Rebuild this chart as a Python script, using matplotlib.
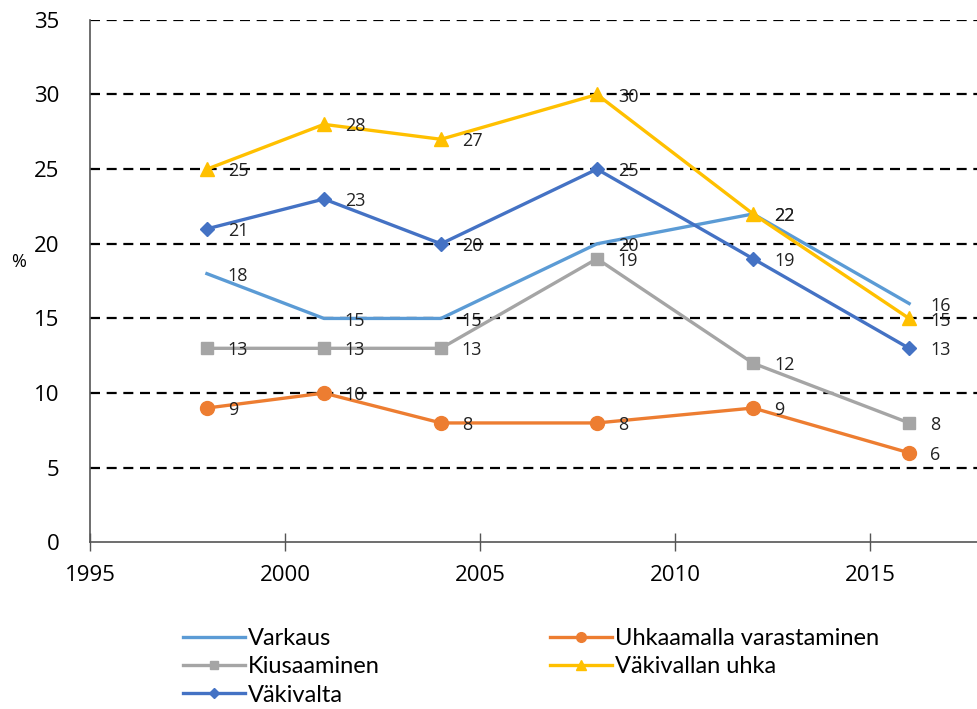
import matplotlib
matplotlib.use("Agg")
import matplotlib.pyplot as plt

plt.rcParams['font.family'] = ['Open Sans', 'DejaVu Sans']

# --- data ---
years = [1998, 2001, 2004, 2008, 2012, 2016]
varkaus = [18, 15, 15, 20, 22, 16]
uhkaamalla = [9, 10, 8, 8, 9, 6]
kiusaaminen = [13, 13, 13, 19, 12, 8]
vakivallan_uhka = [25, 28, 27, 30, 22, 15]
vakivalta = [21, 23, 20, 25, 19, 13]

series = [
    ("Varkaus", varkaus, "#5B9BD5", None, 0),
    ("Uhkaamalla varastaminen", uhkaamalla, "#ED7D31", "o", 10),
    ("Kiusaaminen", kiusaaminen, "#A5A5A5", "s", 8),
    ("Väkivallan uhka", vakivallan_uhka, "#FFC000", "^", 10),
    ("Väkivalta", vakivalta, "#4472C4", "D", 7.5),
]

fig = plt.figure(figsize=(9.77, 7.09), dpi=100)
ax = fig.add_axes([0.092, 0.235, 0.908, 0.737])

for y in range(5, 36, 5):
    ax.axhline(y, color='black', lw=1.6, ls=(0, (4.5, 3)), zorder=1)

handles = {}
for name, vals, col, mk, ms in series:
    ln, = ax.plot(years, vals, color=col, lw=2.4, marker=mk, markersize=ms,
                  zorder=3, label=name)
    handles[name] = ln
    for x, v in zip(years, vals):
        ax.annotate(str(v), (x, v), xytext=(15, -1.5), textcoords='offset points',
                    ha='left', va='center', fontsize=13, color='#222222', zorder=4)

ax.set_xlim(1995, 2017.74)
ax.set_ylim(0, 35)
ax.set_xticks([1995, 2000, 2005, 2010, 2015])
ax.set_yticks(range(0, 36, 5))
for s in ['top', 'right']:
    ax.spines[s].set_visible(False)
ax.spines['left'].set_color('#555555')
ax.spines['bottom'].set_color('#555555')
ax.spines['left'].set_linewidth(1.2)
ax.spines['bottom'].set_linewidth(1.2)
ax.tick_params(axis='x', direction='inout', length=13, width=1, color='#555555',
               labelsize=16, pad=10)
ax.tick_params(axis='y', length=0, labelsize=16, pad=22)
ax.set_ylabel('%', fontsize=13, rotation=0)
ax.yaxis.set_label_coords(-0.08, 0.52)

order = ["Varkaus", "Kiusaaminen", "Väkivalta", "Uhkaamalla varastaminen", "Väkivallan uhka"]
leg_handles = []
for n in order:
    h = handles[n]
    leg_handles.append(plt.Line2D([], [], color=h.get_color(), lw=2.4,
                                  marker=h.get_marker(), markersize=h.get_markersize() * 0.7))
fig.legend(leg_handles, order, ncol=2, loc='upper left',
           bbox_to_anchor=(0.178, 0.127), frameon=False,
           handlelength=2.6, handletextpad=0.15, columnspacing=7.2,
           labelspacing=0.3, borderaxespad=0,
           prop={'family': ['Lato', 'Open Sans'], 'size': 17})

fig.savefig('out.png', dpi=100)
